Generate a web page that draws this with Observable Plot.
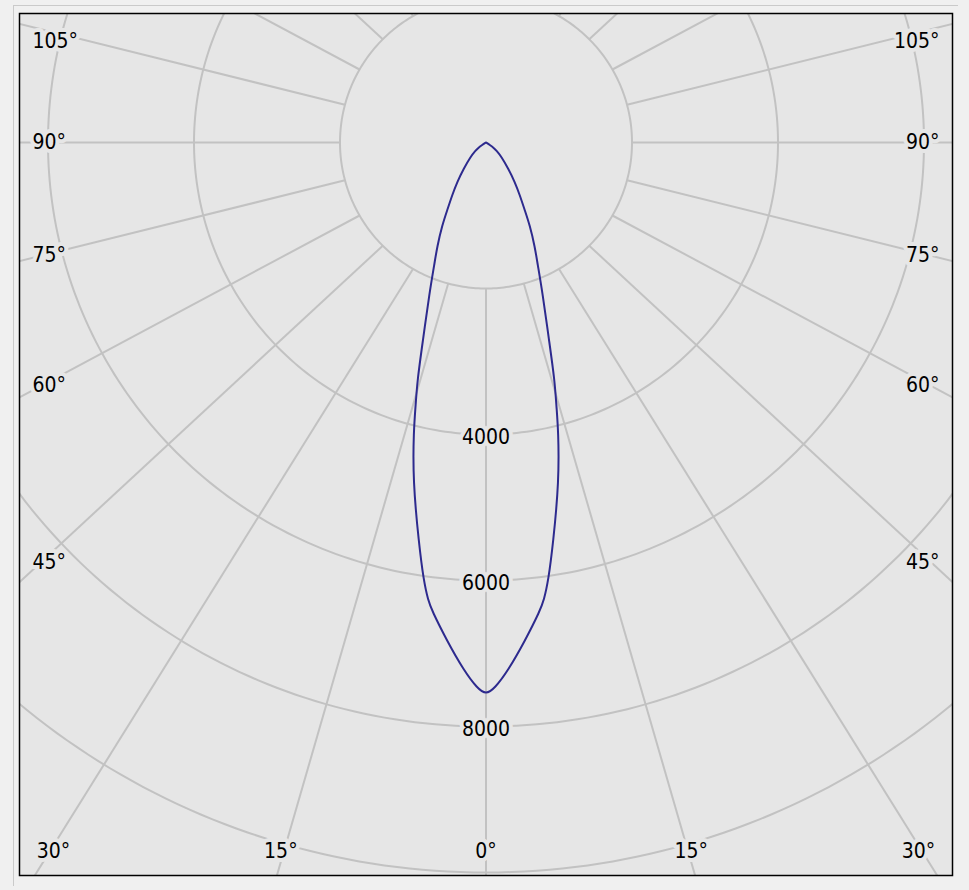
<!DOCTYPE html>
<html>
<head>
<meta charset="utf-8">
<script src="https://cdn.jsdelivr.net/npm/d3@7"></script>
<script src="https://cdn.jsdelivr.net/npm/@observablehq/plot@0.6"></script>
<style>
html, body { margin: 0; padding: 0; background: #f0f0f0; }
#wrap { position: relative; width: 969px; height: 890px; overflow: hidden; }
#groove { position: absolute; left: 13px; top: 5px; width: 944px; height: 880px;
  border-top: 1px solid #cacaca; border-left: 1px solid #cacaca; }
#chart { position: absolute; left: 0; top: 0; }
</style>
</head>
<body>
<div id="wrap"><div id="groove"></div><div id="chart"></div></div>
<script>
// ---- data (luminous intensity, cd, vs. angle from nadir) ----
const curveAngles    = [0, 0.9, 2.4, 4.5, 6.6, 7.2, 8.1, 9.5, 12.2, 14.1, 14.9, 16.1, 17.7, 20.6, 23.1, 25.1, 27.9, 29.8, 32.7, 36.2, 40.5, 47.3, 52.5, 55, 57.5, 60, 75, 90];
const curveIntensity = [7560, 7480, 7239, 6843, 6453, 6323, 6061, 5570, 4737, 4067, 3756, 3394, 2838, 2202, 1796, 1578, 1282, 1069, 858, 667, 468, 289, 180, 130, 70, 0, 0, 0];

const ringValues   = [2000, 4000, 6000, 8000, 10000];
const ringLabels   = [4000, 6000, 8000];
const spokeAngles  = [0, 15, 30, 45, 60, 75, 90, 105, 120, 135, 150, 165, 180];
const angleLabels  = [0, 15, 30, 45, 60, 75, 90, 105];

// ---- geometry helpers ----
const W = 969, H = 890;
const mL = 19, mT = 13, mR = 17, mB = 15;
const pxPerCd = 0.073;
const cx = 485.5, cy = 142;               // pole position in page pixels
const xHalf = (W - mR - cx) / pxPerCd;
const yTop = (mT - cy) / pxPerCd;
const yBottom = (H - mB - cy) / pxPerCd;
const K = 1.08;                           // spoke skew seen in the original drawing
const rad = d => d * Math.PI / 180;

// curve: left half (descending angle) then right half
const lastIdx = curveIntensity.findIndex(v => v === 0);
const half = curveAngles.slice(0, lastIdx + 1).map((a, i) => ({a, I: curveIntensity[i]}));
const curvePts = [
  ...half.slice().reverse().map(d => ({x: -d.I * Math.sin(rad(d.a)), y: d.I * Math.cos(rad(d.a))})),
  ...half.slice(1).map(d => ({x: d.I * Math.sin(rad(d.a)), y: d.I * Math.cos(rad(d.a))}))
];

// rings
const ringPts = ringValues.flatMap(r => d3.range(0, 361, 1).map(t => ({r, x: r * Math.sin(rad(t)), y: r * Math.cos(rad(t))})));

// spokes from the innermost ring outward
const inner = ringValues[0];
const L = 30000;
const spokes = spokeAngles.flatMap(a => {
  const sides = (a === 0 || a === 180) ? [1] : [-1, 1];
  return sides.map(s => {
    const x1 = s * inner * Math.sin(rad(a)), y1 = inner * Math.cos(rad(a));
    return {x1, y1, x2: x1 + s * L * K * Math.sin(rad(a)), y2: y1 + L * Math.cos(rad(a))};
  });
});

// angle labels placed along the (skewed) spoke direction, inside the frame
const sideX = (cx - 32) / pxPerCd;
const bottomY = (851 - cy) / pxPerCd;
const topClamp = (41 - cy) / pxPerCd;
const bottomXMax = (cx - 53) / pxPerCd;
const bottomLabs = [], leftLabs = [], rightLabs = [];
for (const a of angleLabels) {
  const sx = K * Math.sin(rad(a)), sy = Math.cos(rad(a));
  const text = a + "°";
  const xb = sy > 0 ? bottomY / sy * sx : Infinity;
  if (xb < sideX) {
    const xc = Math.min(xb, bottomXMax);
    if (a === 0) bottomLabs.push({text, x: 0, y: bottomY});
    else { bottomLabs.push({text, x: -xc, y: bottomY}); bottomLabs.push({text, x: xc, y: bottomY}); }
  } else {
    const y = Math.max(sideX / sx * sy, topClamp);
    leftLabs.push({text, x: -sideX, y});
    rightLabs.push({text, x: sideX, y});
  }
}
const ringLab = ringLabels.map(v => ({text: String(v), x: 0, y: v}));

const font = '"DejaVu Sans Condensed", "DejaVu Sans", sans-serif';
const bg = "#e6e6e6";
const gridColor = "#c2c2c2";
const textOpts = {fontSize: 21, fontFamily: font, fill: "#000", stroke: bg, strokeWidth: 8, strokeLinejoin: "round"};

const chart = Plot.plot({
  width: W, height: H,
  marginLeft: mL, marginTop: mT, marginRight: mR, marginBottom: mB,
  style: {background: "transparent", overflow: "visible"},
  x: {domain: [-xHalf, xHalf], axis: null},
  y: {domain: [yBottom, yTop], axis: null},
  marks: [
    Plot.frame({fill: bg}),
    Plot.line(ringPts, {x: "x", y: "y", z: "r", stroke: gridColor, strokeWidth: 2, clip: true}),
    Plot.link(spokes, {x1: "x1", y1: "y1", x2: "x2", y2: "y2", stroke: gridColor, strokeWidth: 2, clip: true}),
    Plot.line(curvePts, {x: "x", y: "y", stroke: "#2d2a8e", strokeWidth: 2, curve: "basis", clip: true}),
    Plot.text(ringLab, {x: "x", y: "y", text: "text", dy: 3, ...textOpts}),
    Plot.text(bottomLabs, {x: "x", y: "y", text: "text", textAnchor: "middle", ...textOpts}),
    Plot.text(leftLabs, {x: "x", y: "y", text: "text", textAnchor: "start", ...textOpts}),
    Plot.text(rightLabs, {x: "x", y: "y", text: "text", textAnchor: "end", ...textOpts}),
    Plot.frame({stroke: "#000", strokeWidth: 1.5})
  ]
});
document.getElementById("chart").append(chart);
</script>
</body>
</html>
